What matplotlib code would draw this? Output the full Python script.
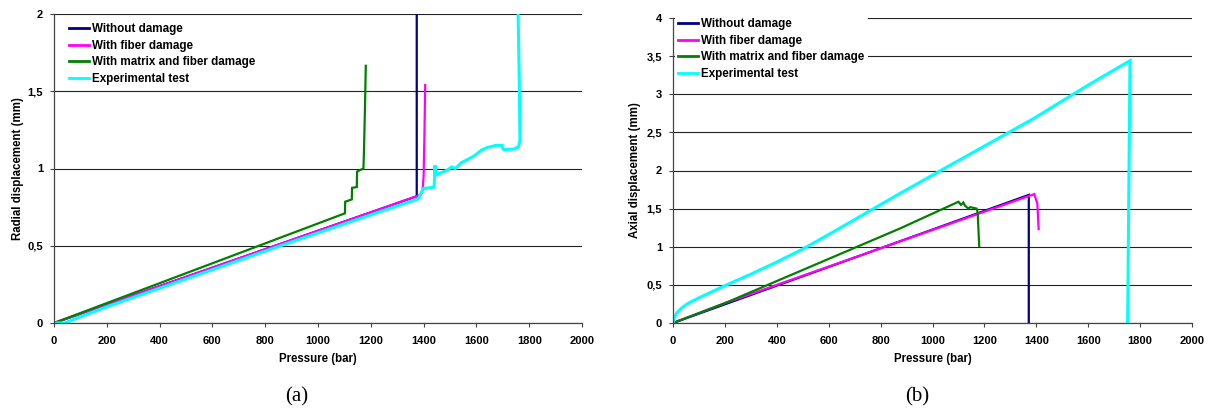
"""Radial / axial displacement vs pressure, two panels (a) and (b)."""
import numpy as np
import matplotlib
matplotlib.use("Agg")
import matplotlib.pyplot as plt
from matplotlib.ticker import FuncFormatter

plt.rcParams["font.family"] = ["Liberation Sans", "DejaVu Sans"]

LABELS = ["Without damage", "With fiber damage",
          "With matrix and fiber damage", "Experimental test"]
COLORS = ["#000080", "#ff00ff", "#008000", "#00ffff"]

# ---- (a) radial displacement (mm) vs pressure (bar)
rad_nodmg_p = [0, 1374, 1374]
rad_nodmg_d = [0, 0.82, 2.6]
rad_fiber_p = [0, 1390, 1396, 1400, 1403, 1406]
rad_fiber_d = [0, 0.83, 0.86, 0.95, 1.20, 1.54]
rad_matrix_p = [0, 1102, 1103, 1128, 1129, 1147, 1148, 1172, 1174, 1178, 1181]
rad_matrix_d = [0, 0.71, 0.785, 0.80, 0.875, 0.88, 0.98, 1.00, 1.10, 1.40, 1.665]
rad_exp_p = [0, 40, 100, 200, 300, 600, 900, 1200, 1375, 1383, 1390, 1399, 1420,
             1440, 1443, 1445, 1448, 1470, 1490, 1506, 1520, 1545, 1563, 1590,
             1620, 1640, 1652, 1675, 1696, 1700, 1705, 1720, 1740, 1759, 1765,
             1762, 1757]
rad_exp_d = [0, 0.0, 0.04, 0.105, 0.165, 0.345, 0.525, 0.70, 0.80, 0.81, 0.84,
             0.87, 0.875, 0.88, 1.02, 0.97, 0.96, 0.975, 0.99, 1.01, 1.0, 1.04,
             1.055, 1.08, 1.12, 1.135, 1.14, 1.15, 1.15, 1.13, 1.12, 1.125,
             1.125, 1.14, 1.18, 1.6, 2.1]

# ---- (b) axial displacement (mm) vs pressure (bar)
ax_nodmg_p = [0, 1371, 1371]
ax_nodmg_d = [0, 1.68, 0]
ax_fiber_p = [0, 200, 875, 1392, 1404, 1409]
ax_fiber_d = [0, 0.26, 1.07, 1.69, 1.57, 1.23]
ax_matrix_p = [0, 200, 875, 1100, 1110, 1119, 1125, 1138, 1145, 1170, 1174, 1180]
ax_matrix_d = [0, 0.26, 1.24, 1.59, 1.55, 1.58, 1.54, 1.50, 1.52, 1.50, 1.45, 1.01]
ax_exp_p = [0, 5, 12, 22, 35, 50, 70, 100, 150, 200, 300, 400, 500, 600, 875,
            1100, 1389, 1600, 1761, 1752]
ax_exp_d = [0, 0.07, 0.12, 0.16, 0.20, 0.24, 0.28, 0.33, 0.41, 0.49, 0.64,
            0.80, 0.97, 1.16, 1.70, 2.13, 2.68, 3.12, 3.44, 0]

comma = FuncFormatter(lambda v, pos: f"{v:g}".replace(".", ","))

fig = plt.figure(figsize=(12.08, 4.12), dpi=100)
ax1 = fig.add_axes([54/1208, 89/412, 528/1208, 309/412])
ax2 = fig.add_axes([673/1208, 89/412, 519/1208, 305/412])

panels = [
    (ax1, [(rad_nodmg_p, rad_nodmg_d), (rad_fiber_p, rad_fiber_d),
           (rad_matrix_p, rad_matrix_d), (rad_exp_p, rad_exp_d)],
     2, "Radial displacement (mm)", (-0.068, -0.117), (0.022, 0.982)),
    (ax2, [(ax_nodmg_p, ax_nodmg_d), (ax_fiber_p, ax_fiber_d),
           (ax_matrix_p, ax_matrix_d), (ax_exp_p, ax_exp_d)],
     4, "Axial displacement (mm)", (-0.073, -0.119), (0.003, 1.011)),
]

for ax, series, ymax, ylab, lab_xy, leg_xy in panels:
    for (p, d), lab, col in zip(series, LABELS, COLORS):
        lw = 2.2 if col == "#00ffff" else 1.6
        ax.plot(p, d, color=col, lw=lw, label=lab, solid_joinstyle="miter")
    ax.set_xlim(0, 2000)
    ax.set_ylim(0, ymax)
    ax.set_xticks(np.arange(0, 2001, 200))
    ax.set_yticks(np.arange(0, ymax + 0.01, 0.5))
    ax.yaxis.set_major_formatter(comma)
    ax.grid(axis="y", color="#222222", lw=0.8)
    ax.set_axisbelow(True)
    for s in ("top", "right"):
        ax.spines[s].set_visible(False)
    for s in ("left", "bottom"):
        ax.spines[s].set_color("#444444")
        ax.spines[s].set_linewidth(0.9)
    ax.tick_params(direction="out", length=3, width=0.8, color="#444444",
                   labelsize=8)
    ax.tick_params(axis="x", pad=6)
    ax.tick_params(axis="y", pad=5)
    for t in ax.get_xticklabels() + ax.get_yticklabels():
        t.set_fontweight("bold")
    ax.set_xlabel("Pressure (bar)", fontsize=8.3, fontweight="bold")
    ax.set_ylabel(ylab, fontsize=8.3, fontweight="bold")
    ax.xaxis.set_label_coords(0.5, lab_xy[1])
    ax.yaxis.set_label_coords(lab_xy[0], 0.5)
    ax.yaxis.label.set_va("center")
    ax.xaxis.label.set_va("center")
    leg = ax.legend(loc="upper left", bbox_to_anchor=leg_xy, frameon=True,
                    fancybox=False, framealpha=1, edgecolor="none",
                    fontsize=8.4, handlelength=1.7, handletextpad=0.25,
                    labelspacing=0.4, borderpad=0.3, borderaxespad=0)
    for t in leg.get_texts():
        t.set_fontweight("bold")
    for h in leg.get_lines():
        h.set_linewidth(2)

fig.text(297/1208, 1 - 397/412, "(a)", ha="center", va="center",
         fontsize=15, family=["Liberation Serif", "DejaVu Serif"])
fig.text(917/1208, 1 - 397/412, "(b)", ha="center", va="center",
         fontsize=15, family=["Liberation Serif", "DejaVu Serif"])

fig.savefig("out.png", dpi=100)
